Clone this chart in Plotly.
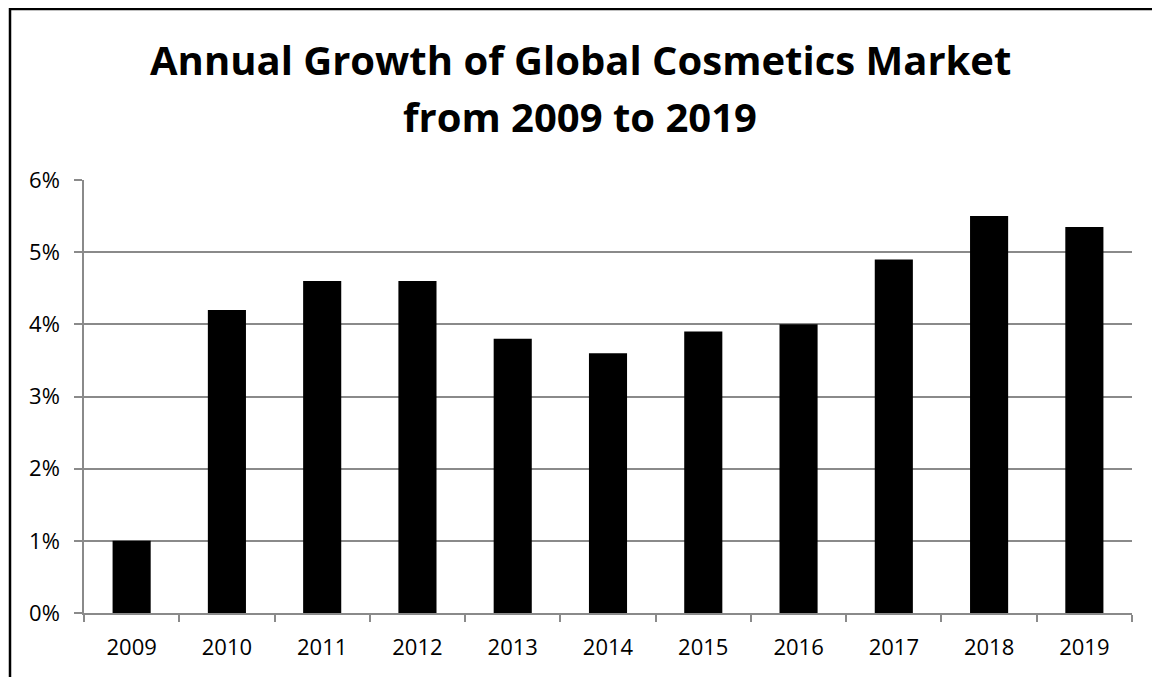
import plotly.graph_objects as go

years = ["2009", "2010", "2011", "2012", "2013", "2014", "2015", "2016", "2017", "2018", "2019"]
growth = [1.0, 4.2, 4.6, 4.6, 3.8, 3.6, 3.9, 4.0, 4.9, 5.5, 5.35]
y_ticks = [0, 1, 2, 3, 4, 5, 6]
y_labels = [f"{v}%" for v in y_ticks]
title_lines = ["Annual Growth of Global Cosmetics Market", "from 2009 to 2019"]

OFF = 8  # page body margin
W, H = 1160 - OFF, 677 - OFF
L, R, T, B = 84 - OFF, 28, 180 - OFF, 64
pw, ph = W - L - R, H - T - B

fig = go.Figure(go.Bar(x=years, y=growth, marker=dict(color="black", line=dict(width=0)), width=0.4))

grey = "#8a8a8a"
fig.update_layout(
    width=W, height=H,
    margin=dict(l=L, r=R, t=T, b=B),
    paper_bgcolor="white", plot_bgcolor="white",
    showlegend=False,
    font=dict(family="Open Sans", size=22, color="black"),
)
for i, (line, ycen) in enumerate(zip(title_lines, [59, 116])):
    fig.add_annotation(
        text=f"<b>{line}</b>", xref="paper", yref="paper",
        x=(580 - OFF - L) / pw, y=1 + (T - (ycen - OFF)) / ph,
        xanchor="center", yanchor="middle", showarrow=False,
        font=dict(family="Open Sans", size=40, color="black"),
    )
fig.update_xaxes(
    type="category", tickson="boundaries", ticks="outside", ticklen=7,
    tickcolor=grey, tickwidth=1.5, showline=True, linecolor=grey, linewidth=1.5,
    showgrid=False, tickfont=dict(size=22), range=[-0.5, 10.5],
    ticklabelstandoff=14,
)
fig.update_yaxes(
    range=[0, 6], tickmode="array", tickvals=y_ticks, ticktext=y_labels,
    ticks="outside", ticklen=8,
    tickcolor=grey, tickwidth=1.5, showline=True, linecolor=grey, linewidth=1.5,
    showgrid=True, gridcolor=grey, gridwidth=1.5, zeroline=False,
    tickfont=dict(size=22), ticklabelstandoff=10,
)
# outer chart border
fig.add_shape(
    type="rect", xref="paper", yref="paper",
    x0=(10 - OFF - L) / pw, x1=(W + 30 - L) / pw,
    y0=-(B + 30) / ph, y1=1 + (T - (8 - OFF) - 1) / ph,
    line=dict(color="black", width=2.5), fillcolor="rgba(0,0,0,0)", layer="above",
)
fig.write_html("out.html")
